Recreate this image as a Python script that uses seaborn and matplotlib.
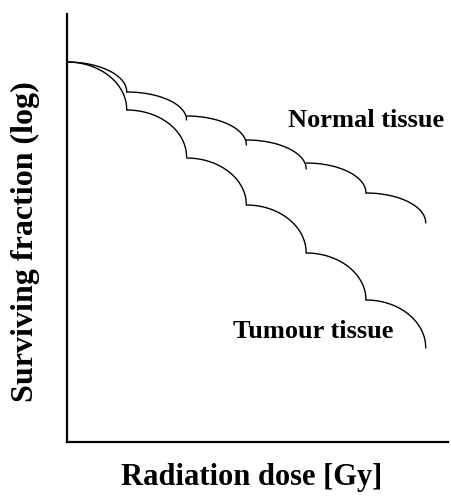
import numpy as np
import pandas as pd
import matplotlib
matplotlib.use("Agg")
import matplotlib.pyplot as plt
import seaborn as sns

# ---- data (log10 surviving fraction, dose in Gy) ----
fraction_dose = 2.0
n_fractions = 6
normal_start = [0.00, -0.30, -0.54, -0.78, -1.01, -1.31]
normal_end = [-0.30, -0.58, -0.83, -1.07, -1.31, -1.61]
tumour_start = [0.00, -0.48, -0.96, -1.43, -1.91, -2.38]
tumour_end = [-0.48, -0.95, -1.43, -1.91, -2.38, -2.86]
tissues = ["Normal tissue", "Tumour tissue"]

# ---- build curve table (each fraction drawn as a shoulder arc) ----
rows = []
t = np.linspace(0, 1, 160)
shape = 1 - np.sqrt(1 - t ** 2)
for name, starts, ends in [(tissues[0], normal_start, normal_end),
                           (tissues[1], tumour_start, tumour_end)]:
    for i in range(n_fractions):
        d0 = i * fraction_dose
        xs = d0 + t * fraction_dose
        ys = starts[i] + (ends[i] - starts[i]) * shape
        for x, y in zip(xs, ys):
            rows.append({"tissue": name, "fraction": i, "dose": x, "logSF": y})
df = pd.DataFrame(rows)

sns.set_theme(style="white")
plt.rcParams["font.family"] = ["Liberation Serif", "DejaVu Serif"]
plt.rcParams["text.color"] = "black"

fig = plt.figure(figsize=(4.51, 5.0), dpi=100)
ax = fig.add_axes([67 / 451, 58 / 500, 381 / 451, 428 / 500])

sns.lineplot(data=df, x="dose", y="logSF", hue="tissue", units="fraction",
             estimator=None, sort=False, palette=["black", "black"],
             linewidth=1.0, legend=False, ax=ax)

ax.set_xlim(0, 381 / 59.8 * fraction_dose)
ax.set_ylim(-3.80, 0.48)
ax.set_xticks([])
ax.set_yticks([])
ax.set_xlabel("")
ax.set_ylabel("")
for s in ["top", "right"]:
    ax.spines[s].set_visible(False)
for s in ["left", "bottom"]:
    ax.spines[s].set_color("black")
    ax.spines[s].set_linewidth(1.6)

ax.text(10.0, -0.59, "Normal tissue", fontsize=19, fontweight="bold",
        ha="center", va="center", color="black")
ax.text(8.24, -2.70, "Tumour tissue", fontsize=19, fontweight="bold",
        ha="center", va="center", color="black")

fig.text(25 / 451, 1 - 242 / 500, "Surviving fraction (log)", rotation=90,
         fontsize=23, fontweight="bold", ha="center", va="center", color="black")
fig.text(252 / 451, 1 - 477 / 500, "Radiation dose [Gy]",
         fontsize=22, fontweight="bold", ha="center", va="center", color="black")

fig.savefig("out.png", dpi=100)
